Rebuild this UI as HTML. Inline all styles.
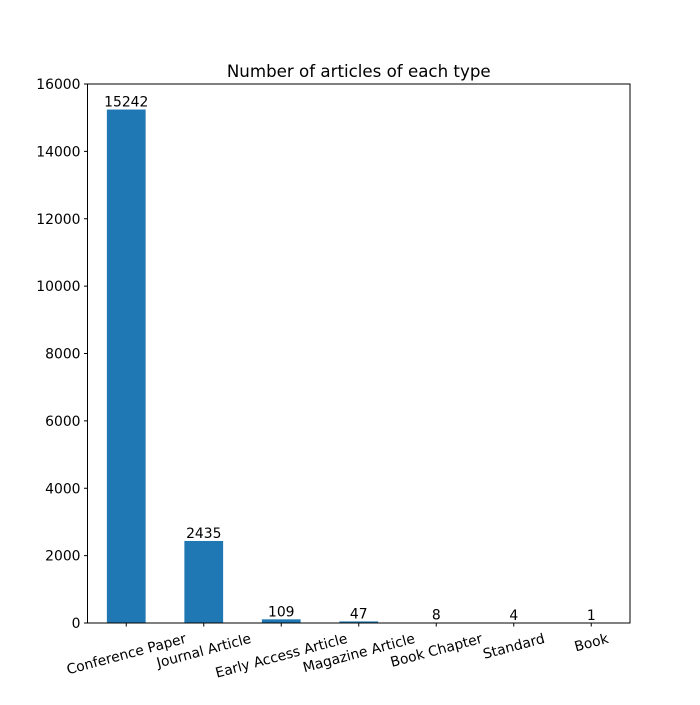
<!DOCTYPE html>
<html><head><meta charset="utf-8"><style>body{margin:0;background:#fff}svg{font-family:"DejaVu Sans","Liberation Sans",sans-serif}</style></head>
<body>
<svg id="chart" width="700" height="700">
<rect width="700" height="700" fill="#fff"/>
<text x="358.75" y="77" text-anchor="middle" font-size="16.67">Number of articles of each type</text>
<g id="plot"></g>
<rect x="87.5" y="84" width="542.5" height="539" fill="none" stroke="#000" stroke-width="1"/>
</svg>
<script>
const categories = ["Conference Paper","Journal Article","Early Access Article","Magazine Article","Book Chapter","Standard","Book"];
const counts = [15242,2435,109,47,8,4,1];
const yTicks = [0,2000,4000,6000,8000,10000,12000,14000,16000];
const L=87.5,R=630,T=84,B=623,yMax=16000,FS=13.9;
const x = i => L + (i+0.5)*(R-L)/categories.length;
const y = v => B - v/yMax*(B-T);
const bw = 0.5*(R-L)/categories.length;
const g = document.getElementById('plot');
const NS='http://www.w3.org/2000/svg';
function mk(t,a){const e=document.createElementNS(NS,t);for(const k in a)e.setAttribute(k,a[k]);g.appendChild(e);return e;}
yTicks.forEach(v=>{
  const tk=mk('line',{x1:L-3.5,x2:L,y1:y(v),y2:y(v),stroke:'#000'});
  
  
  const t=mk('text',{x:L-7,y:y(v)+5,'text-anchor':'end','font-size':FS});
  t.textContent=v;
  
  
});
categories.forEach((c,i)=>{
  const v=counts[i];
  const r=mk('rect',{x:x(i)-bw/2,y:y(v),width:bw,height:B-y(v),fill:'#1f77b4'});
  
  
  const vl=mk('text',{x:x(i),y:y(v)-3,'text-anchor':'middle','font-size':FS});
  vl.textContent=v;
  
  
  const tk=mk('line',{x1:x(i),x2:x(i),y1:B,y2:B+3.5,stroke:'#000'});
  
  
  const tl=mk('text',{x:x(i),y:0,'text-anchor':'middle','font-size':FS});
  tl.textContent=c;
  
  
  const w=tl.getComputedTextLength();
  const cy=B+7+(w*0.2588+16*0.966)/2;
  tl.setAttribute('y',cy+5);
  tl.setAttribute('transform',`rotate(-15 ${x(i)} ${cy})`);
});
</script>
</body></html>
